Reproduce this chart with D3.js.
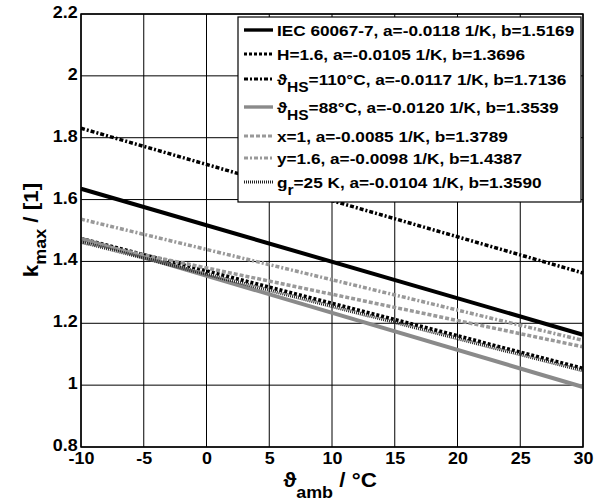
<!DOCTYPE html>
<html><head><meta charset="utf-8">
<script src="https://cdn.jsdelivr.net/npm/d3@7"></script>
<style>body{margin:0;background:#fff}svg{display:block;font-family:"Liberation Sans",Arial,sans-serif;font-weight:bold}</style>
</head><body>
<script>
// Data: line endpoints (ambient temperature in °C, k_max)
const xValues = [-10, 30];
const seriesNames = ["IEC", "H", "HS110", "HS88", "x1", "y16", "gr25"];
const iecValues   = [1.6349, 1.1629];
const hValues     = [1.4746, 1.0546];
const hs110Values = [1.8306, 1.3626];
const hs88Values  = [1.4739, 0.9939];
const x1Values    = [1.4639, 1.1239];
const y16Values   = [1.5367, 1.1447];
const gr25Values  = [1.4630, 1.0470];
const xTicks = [-10, -5, 0, 5, 10, 15, 20, 25, 30];
const xTickLabels = ["-10", "-5", "0", "5", "10", "15", "20", "25", "30"];
const yTicks = [0.8, 1, 1.2, 1.4, 1.6, 1.8, 2, 2.2];
const yTickLabels = ["0.8", "1", "1.2", "1.4", "1.6", "1.8", "2", "2.2"];
const legendMain = ["IEC 60067-7, a=-0.0118 1/K, b=1.5169", "H=1.6, a=-0.0105 1/K, b=1.3696", "ϑ", "ϑ", "x=1, a=-0.0085 1/K, b=1.3789", "y=1.6, a=-0.0098 1/K, b=1.4387", "g"];
const legendSub  = ["", "", "HS", "HS", "", "", "r"];
const legendRest = ["", "", "=110°C, a=-0.0117 1/K, b=1.7136", "=88°C, a=-0.0120 1/K, b=1.3539", "", "", "=25 K, a=-0.0104 1/K, b=1.3590"];

const W = 598, H = 503;
const m = {l: 81, r: 583, t: 14, b: 447};
const SX = 1.12; // horizontal stretch of the reference lettering
const svg = d3.select("body").append("svg").attr("width", W).attr("height", H);
const x = d3.scaleLinear().domain([-10, 30]).range([m.l, m.r]);
const y = d3.scaleLinear().domain([0.8, 2.2]).range([m.b, m.t]);

// grid
const g = svg.append("g");
g.selectAll(".vg").data(xTicks).join("line")
  .attr("x1", d => x(d)).attr("x2", d => x(d)).attr("y1", m.t).attr("y2", m.b)
  .attr("stroke", "#000").attr("stroke-width", 1);
g.selectAll(".hg").data(yTicks).join("line")
  .attr("y1", d => y(d)).attr("y2", d => y(d)).attr("x1", m.l).attr("x2", m.r)
  .attr("stroke", "#000").attr("stroke-width", 1);

const styles = [
  {v: iecValues,   c: "#000",    w: 4,   d: null},
  {v: hValues,     c: "#000",    w: 3.5, d: "3,2"},
  {v: hs110Values, c: "#000",    w: 3.5, d: "4,2,2,2"},
  {v: hs88Values,  c: "#8a8a8a", w: 4,   d: null},
  {v: x1Values,    c: "#999",    w: 3.5, d: "4,2"},
  {v: y16Values,   c: "#999",    w: 3.5, d: "4,2,2,2"},
  {v: gr25Values,  c: "#222",    w: 3.5, d: "1,1"}
];
const line = d3.line().x(d => x(d[0])).y(d => y(d[1]));
const dataLines = svg.append("g");
styles.forEach(s => {
  dataLines.append("path").datum(xValues.map((xv, i) => [xv, s.v[i]]))
    .attr("d", line).attr("fill", "none").attr("stroke", s.c)
    .attr("stroke-width", s.w).attr("stroke-dasharray", s.d);
});

// axes
svg.append("rect").attr("x", m.l).attr("y", m.t).attr("width", m.r - m.l).attr("height", m.b - m.t)
  .attr("fill", "none").attr("stroke", "#000").attr("stroke-width", 1.5);
const xAxis = svg.append("g").attr("transform", `translate(0,${m.b})`)
  .call(d3.axisBottom(x).tickValues(xTicks).tickFormat((d, i) => xTickLabels[i]).tickSize(0).tickPadding(6));
xAxis.select(".domain").remove();
xAxis.selectAll("text").attr("font-size", 16).attr("font-weight", "bold").attr("fill", "#000")
  .attr("font-family", "Liberation Sans, Arial, sans-serif").attr("transform", `scale(${SX},1)`);
const yAxis = svg.append("g").attr("transform", `translate(${m.l},0)`)
  .call(d3.axisLeft(y).tickValues(yTicks).tickFormat((d, i) => yTickLabels[i]).tickSize(0).tickPadding(3));
yAxis.select(".domain").remove();
yAxis.selectAll("text").attr("font-size", 16).attr("font-weight", "bold").attr("fill", "#000")
  .attr("font-family", "Liberation Sans, Arial, sans-serif").attr("dy", "0.22em")
  .attr("transform", `scale(${SX},1)`);

// axis labels
const xl = svg.append("text").attr("transform", `translate(330,487) scale(${SX},1)`).attr("text-anchor", "middle")
  .attr("font-size", 20);
xl.append("tspan").text("ϑ");
xl.append("tspan").text("amb").attr("font-size", 16).attr("dy", 11);
xl.append("tspan").text(" / °C").attr("dy", -11);

const yl = svg.append("text").attr("transform", `translate(38,230) rotate(-90) scale(${SX},1)`).attr("text-anchor", "middle")
  .attr("font-size", 20);
yl.append("tspan").text("k");
yl.append("tspan").text("max").attr("font-size", 16).attr("dy", 8);
yl.append("tspan").text(" / [1]").attr("dy", -8);

// legend
const lg = svg.append("g");
lg.append("rect").attr("x", 238).attr("y", 17).attr("width", 343).attr("height", 185)
  .attr("fill", "#fff").attr("stroke", "#000").attr("stroke-width", 1.2);
const rowY = [30, 54, 79, 107, 136, 158, 182];
styles.forEach((s, i) => {
  lg.append("line").attr("x1", 244).attr("x2", 273).attr("y1", rowY[i]).attr("y2", rowY[i])
    .attr("stroke", s.c).attr("stroke-width", s.w * 0.85).attr("stroke-dasharray", s.d);
  const t = lg.append("text").attr("transform", `translate(277,${rowY[i] + 5.5}) scale(1.11,1)`)
    .attr("font-size", 15.5);
  t.append("tspan").text(legendMain[i]);
  if (legendSub[i]) {
    t.append("tspan").text(legendSub[i]).attr("font-size", 14).attr("dy", 7);
    t.append("tspan").text(legendRest[i]).attr("dy", -7);
  }
});
</script>
</body></html>
